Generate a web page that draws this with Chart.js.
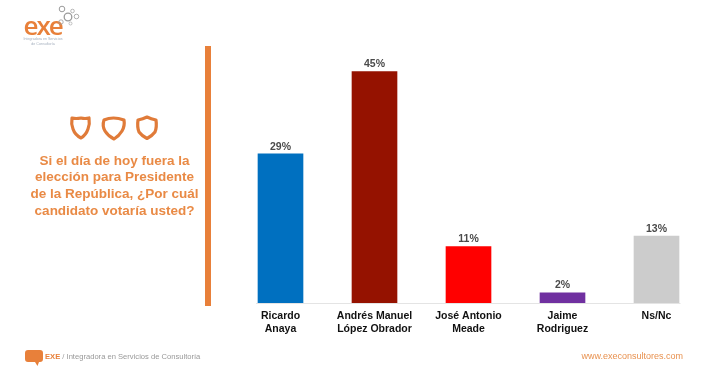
<!DOCTYPE html>
<html lang="es">
<head>
<meta charset="utf-8">
<title>Intención de voto</title>
<script src="https://cdn.jsdelivr.net/npm/chart.js@4"></script>
<style>
  html, body { margin: 0; padding: 0; background: #fff; }
  #page { position: relative; width: 720px; height: 372px; overflow: hidden; font-family: "Liberation Sans", Arial, sans-serif; }
  #grafico { position: absolute; left: 0; top: 0; }
  #barra { position: absolute; left: 205px; top: 46px; width: 6px; height: 260px; background: #e8803a; }
  #pregunta { position: absolute; left: 14.5px; top: 152.5px; width: 200px; text-align: center; color: #e98a45; font-weight: bold; font-size: 13.5px; line-height: 16.7px; }
  #logoTexto { position: absolute; left: 23.5px; top: 7px; color: #e8803a; font-size: 26px; font-weight: 600; letter-spacing: -2px; font-family: "Open Sans", sans-serif; }
  #logoSub { position: absolute; left: 14px; top: 37px; width: 58px; text-align: center; color: #a3aebd; font-size: 3.6px; line-height: 4.6px; }
  #pie { position: absolute; left: 45px; top: 352px; font-size: 7.6px; color: #999999; }
  #pie b { color: #e8803a; }
  #web { position: absolute; right: 37px; top: 351px; font-size: 9px; color: #e8914f; }
  svg { position: absolute; left: 0; top: 0; }
</style>
</head>
<body>
<div id="page">
  <canvas id="grafico" width="720" height="372"></canvas>
  <div id="barra"></div>
  <div id="logoTexto">exe</div>
  <div id="logoSub">Integradora en Servicios<br>de Consultoría</div>
  <svg width="720" height="372" fill="none">
    <g stroke="#9a9a9a" fill="none">
      <circle cx="62" cy="9" r="2.8" stroke-width="1"/>
      <circle cx="68" cy="17" r="3.8" stroke-width="1.3"/>
      <circle cx="72.5" cy="11" r="1.8" stroke-width=".7"/>
      <circle cx="76.5" cy="16.5" r="2.3" stroke-width=".8"/>
      <circle cx="61" cy="22" r="2.2" stroke-width=".8"/>
      <circle cx="70.5" cy="23.5" r="1.5" stroke-width=".6"/>
    </g>
    <g stroke="#e07b39" stroke-width="3.2" stroke-linejoin="round">
      <path d="M72 118 Q76 119 81 118 Q85 119 89 118 Q90 124 88 129 Q86 135 81 138 Q75 135 73 129 Q71 124 72 118 Z"/>
      <path d="M104 120 Q113 116 124 120 Q125 126 122 131 Q119 136 114 139 Q108 136 105 131 Q102 126 104 120 Z"/>
      <path d="M138 120 Q143 119 147 117 Q151 119 156 120 Q157 127 155 132 Q152 136 147 138.5 Q142 136 139 132 Q137 127 138 120 Z"/>
    </g>
    <path d="M28 350 H40 Q43 350 43 353 V359 Q43 362 40 362 H39 L37.5 366 L35 362 H28 Q25 362 25 359 V353 Q25 350 28 350 Z" fill="#e8803a"/>
  </svg>
  <div id="pregunta">Si el día de hoy fuera la<br>elección para Presidente<br>de la República, ¿Por cuál<br>candidato votaría usted?</div>
  <div id="pie"><b>EXE</b> / Integradora en Servicios de Consultoría</div>
  <div id="web">www.execonsultores.com</div>
</div>
<script>
// datos
const candidatos = [["Ricardo", "Anaya"], ["Andrés Manuel", "López Obrador"], ["José Antonio", "Meade"], ["Jaime", "Rodriguez"], "Ns/Nc"];
const porcentajes = [29, 45, 11, 2, 13];
const colores = ["#0070c0", "#951200", "#ff0000", "#7030a0", "#cccccc"];

// etiqueta con el % arriba de cada barra y linea base
const extras = {
  id: "extras",
  afterDatasetsDraw(chart) {
    const ctx = chart.ctx;
    const barras = chart.getDatasetMeta(0).data;
    ctx.save();
    ctx.fillStyle = "#4a4a4a";
    ctx.font = "bold 10.5px 'Liberation Sans'";
    ctx.textAlign = "center";
    ctx.textBaseline = "bottom";
    barras.forEach(function (b, i) {
      ctx.fillText(porcentajes[i] + "%", b.x, b.y - 2);
    });
    const y0 = chart.scales.y.getPixelForValue(0);
    ctx.strokeStyle = "#e4e4e4";
    ctx.lineWidth = 1;
    ctx.beginPath();
    ctx.moveTo(barras[0].x - 24.5, y0 + 0.5);
    ctx.lineTo(barras[4].x + 24, y0 + 0.5);
    ctx.stroke();
    ctx.restore();
  }
};

new Chart(document.getElementById("grafico"), {
  type: "bar",
  data: {
    labels: candidatos,
    datasets: [{ data: porcentajes, backgroundColor: colores, barThickness: 45 }]
  },
  options: {
    responsive: false,
    animation: false,
    layout: { padding: { left: 233.5, right: 16.5, top: 46, bottom: 29 } },
    plugins: { legend: { display: false }, tooltip: { enabled: false } },
    scales: {
      x: {
        grid: { display: false },
        border: { display: false },
        afterFit: function (s) { s.height = 40; },
        ticks: {
          color: "#111111",
          padding: -1,
          maxRotation: 0,
          autoSkip: false,
          font: { family: "'Liberation Sans'", size: 10.5, weight: "bold", lineHeight: 1.2 }
        }
      },
      y: { display: false, min: 0, max: 50 }
    }
  },
  plugins: [extras]
});
</script>
</body>
</html>
